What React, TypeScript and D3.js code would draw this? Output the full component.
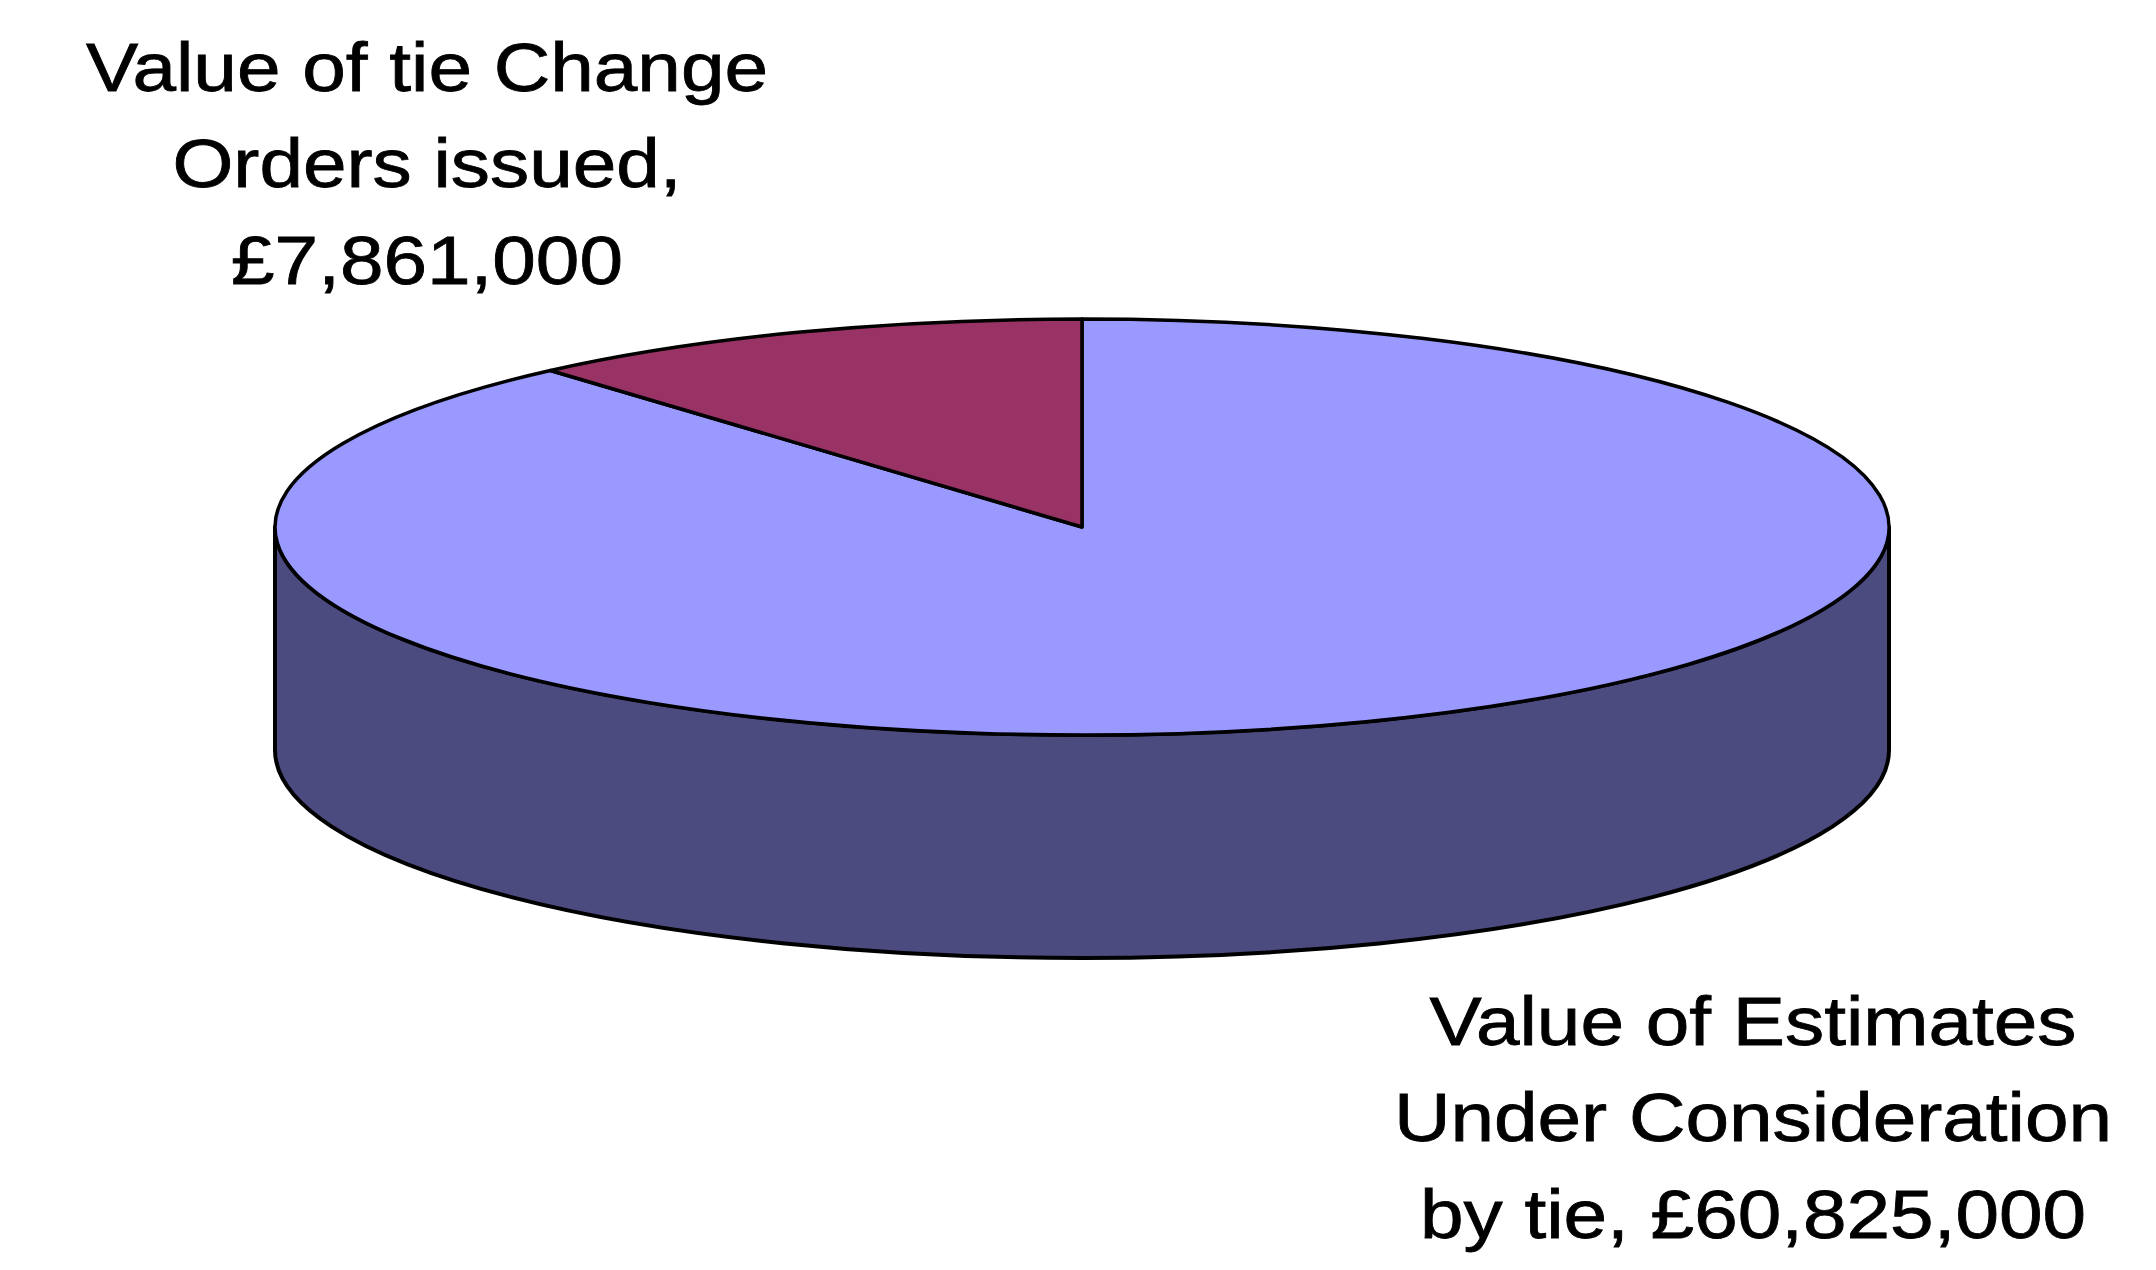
import React, { useEffect, useRef } from 'react';
import * as d3 from 'd3';

// slices, in drawing order (clockwise from 12 o'clock)
const categories = ['Value of Estimates Under Consideration by tie', 'Value of tie Change Orders issued'];
const values = [60825000, 7861000];
const topColors = ['#9999ff', '#993366'];
const sideColors = ['#4b4b80', '#4d1a33'];
const labelLines = [
  ['Value of Estimates', 'Under Consideration', 'by tie, £60,825,000'],
  ['Value of tie Change', 'Orders issued,', '£7,861,000'],
];

const W = 2156;
const H = 1270;

const App = () => {
  const chartRef = useRef<SVGSVGElement>(null);

  useEffect(() => {
    const svg = d3.select(chartRef.current);
    svg.selectAll('*').remove();

    const cx = 1082;
    const cy = 527;
    const rx = 807;
    const ry = 208;
    const depth = 223;
    const k = ry / rx;
    const D = depth / k;

    const pie = d3.pie<number>().sort(null).value(d => d);
    const arcs = pie(values);
    const arc = d3.arc<d3.PieArcDatum<number>>().innerRadius(0).outerRadius(rx);

    // squash a circular pie into an ellipse
    const g = svg.append('g').attr('transform', `translate(${cx},${cy}) scale(1,${k})`);

    // side walls: only the part of each slice facing the viewer (screen angles 0..PI)
    arcs.forEach((a, i) => {
      // d3 pie angle (0 = top, clockwise) -> canvas angle (0 = +x, clockwise)
      const s = a.startAngle - Math.PI / 2;
      const e = a.endAngle - Math.PI / 2;
      const ranges: [number, number][] = [];
      for (let off = -2 * Math.PI; off <= 2 * Math.PI; off += 2 * Math.PI) {
        const lo = Math.max(s + off, 0);
        const hi = Math.min(e + off, Math.PI);
        if (hi > lo) ranges.push([lo, hi]);
      }
      ranges.forEach(([lo, hi]) => {
        const p = d3.path();
        p.moveTo(rx * Math.cos(lo), rx * Math.sin(lo));
        p.lineTo(rx * Math.cos(lo), rx * Math.sin(lo) + D);
        p.arc(0, D, rx, lo, hi, false);
        p.lineTo(rx * Math.cos(hi), rx * Math.sin(hi));
        p.arc(0, 0, rx, hi, lo, true);
        p.closePath();
        g.append('path')
          .attr('d', p.toString())
          .attr('fill', sideColors[i])
          .attr('stroke', '#000')
          .attr('stroke-width', 4)
          .attr('stroke-linejoin', 'round')
          .attr('vector-effect', 'non-scaling-stroke');
      });
    });

    // top faces
    g.selectAll('path.slice')
      .data(arcs)
      .join('path')
      .attr('class', 'slice')
      .attr('d', arc)
      .attr('fill', (d, i) => topColors[i])
      .attr('stroke', '#000')
      .attr('stroke-width', 3.5)
      .attr('stroke-linejoin', 'round')
      .attr('vector-effect', 'non-scaling-stroke')
      .append('title')
      .text((d, i) => categories[i]);

    // labels
    const labelPos = [
      { x: 1753, y: 1045 },
      { x: 427, y: 91 },
    ];
    const sx = 1.135;
    const lineH = 96.5;
    labelLines.forEach((lines, i) => {
      const t = svg.append('g')
        .attr('transform', `translate(${labelPos[i].x},${labelPos[i].y}) scale(${sx},1)`)
        .append('text')
        .attr('text-anchor', 'middle')
        .attr('font-family', '"Liberation Sans", Arial, sans-serif')
        .attr('font-size', 69)
        .attr('fill', '#000')
        .attr('stroke', '#000')
        .attr('stroke-width', 0.8);
      lines.forEach((line, j) => {
        t.append('tspan').attr('x', 0).attr('y', j * lineH).text(line);
      });
    });
  }, []);

  return (
    <svg
      ref={chartRef}
      width={W}
      height={H}
      style={{ position: 'absolute', left: 0, top: 0, background: '#fff' }}
    ></svg>
  );
};

export default App;
